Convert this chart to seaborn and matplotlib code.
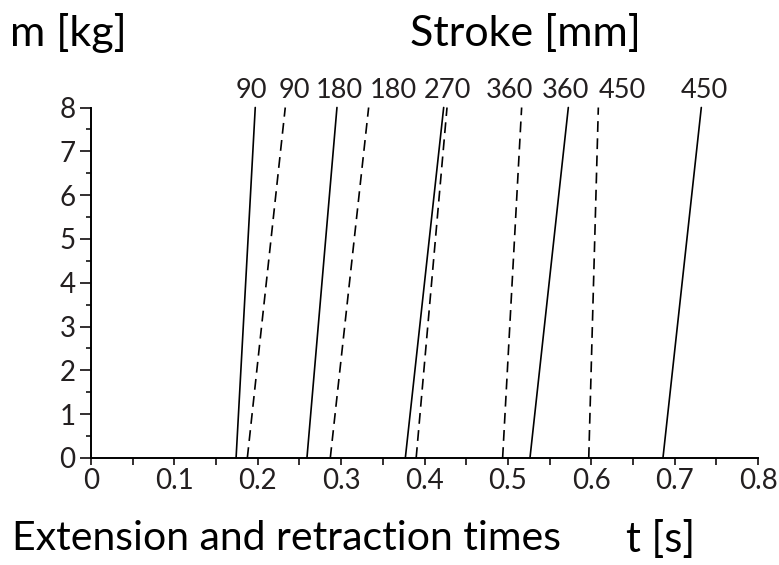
import matplotlib
matplotlib.use("Agg")
import matplotlib.pyplot as plt
from matplotlib.ticker import MultipleLocator
import pandas as pd
import seaborn as sns

# Stroke lengths [mm]
strokes = [90, 180, 270, 360, 450]

# Extension times [s] at m = 0 kg and m = 8 kg (solid lines)
ext_t_m0 = [0.174, 0.259, 0.377, 0.5265, 0.686]
ext_t_m8 = [0.197, 0.295, 0.423, 0.5725, 0.732]

# Retraction times [s] at m = 0 kg and m = 8 kg (dashed lines)
ret_t_m0 = [0.1875, 0.287, 0.390, 0.4937, 0.597]
ret_t_m8 = [0.233, 0.333, 0.427, 0.5165, 0.6085]

# Load range [kg]
mass = [0, 8]

x_ticks = [0, 0.1, 0.2, 0.3, 0.4, 0.5, 0.6, 0.7, 0.8]
x_ticklabels = ["0", "0.1", "0.2", "0.3", "0.4", "0.5", "0.6", "0.7", "0.8"]
y_ticks = [0, 1, 2, 3, 4, 5, 6, 7, 8]

rows = []
for mode, t0s, t8s in (("Extension", ext_t_m0, ext_t_m8),
                       ("Retraction", ret_t_m0, ret_t_m8)):
    for s, t0, t8 in zip(strokes, t0s, t8s):
        rows.append({"mode": mode, "stroke": s, "line": f"{mode}-{s}", "t": t0, "m": mass[0]})
        rows.append({"mode": mode, "stroke": s, "line": f"{mode}-{s}", "t": t8, "m": mass[1]})
df = pd.DataFrame(rows)

sns.set_theme(style="ticks")
plt.rcParams["font.family"] = ["Lato", "DejaVu Sans"]
ink = "#231f20"

fig = plt.figure(figsize=(7.79, 5.65), dpi=100)
ax = fig.add_axes([91 / 779, 1 - 458 / 565, 667 / 779, (458 - 107.5) / 565])

sns.lineplot(
    data=df, x="t", y="m", units="line", estimator=None,
    style="mode", style_order=["Extension", "Retraction"],
    dashes={"Extension": "", "Retraction": (6.5, 3.8)},
    color="black", linewidth=1.2, legend=False, ax=ax, sort=False,
)
for ln in ax.lines:
    ln.set_clip_on(False)

ax.set_xlim(0, 0.8)
ax.set_ylim(0, 8)
ax.set_xlabel("")
ax.set_ylabel("")

ax.set_xticks(x_ticks)
ax.set_xticklabels(x_ticklabels)
ax.xaxis.set_minor_locator(MultipleLocator(0.05))
ax.set_yticks(y_ticks)
ax.yaxis.set_minor_locator(MultipleLocator(0.5))

ax.tick_params(axis="x", which="both", direction="out", length=5, width=1.3,
               pad=2, labelsize=20, colors=ink)
ax.tick_params(axis="y", which="major", direction="out", length=8, width=1.3,
               pad=3, labelsize=20, colors=ink)
ax.tick_params(axis="y", which="minor", direction="out", length=3.6, width=1.3)

sns.despine(ax=ax)
for side in ("left", "bottom"):
    ax.spines[side].set_linewidth(1.4)
    ax.spines[side].set_color("black")

# Stroke labels above the top end of each line (offsets in points)
label_offsets = {
    ("Extension", 90): -2.5, ("Retraction", 90): 6.5,
    ("Extension", 180): 1.5, ("Retraction", 180): 17.5,
    ("Extension", 270): 2.5,
    ("Retraction", 360): -8.5, ("Extension", 360): -2.0,
    ("Retraction", 450): 17.5, ("Extension", 450): 2.5,
}
for mode, t8s in (("Extension", ext_t_m8), ("Retraction", ret_t_m8)):
    for s, t8 in zip(strokes, t8s):
        dx = label_offsets.get((mode, s))
        if dx is None:
            continue
        ax.annotate(str(s), xy=(t8, mass[1]), xytext=(dx, 12),
                    textcoords="offset points", ha="center", va="center",
                    fontsize=19.5, color=ink, annotation_clip=False)

fig.text(10 / 779, 1 - 33 / 565, "m [kg]", fontsize=31, color="black",
         ha="left", va="center")
fig.text(525 / 779, 1 - 33 / 565, "Stroke [mm]", fontsize=31, color="black",
         ha="center", va="center")
fig.text(12 / 779, 1 - 539 / 565, "Extension and retraction times",
         fontsize=29.5, color="black", ha="left", va="center")
fig.text(661 / 779, 1 - 539 / 565, "t [s]",
         fontsize=30, color="black", ha="center", va="center")

fig.savefig("out.png", dpi=100)
